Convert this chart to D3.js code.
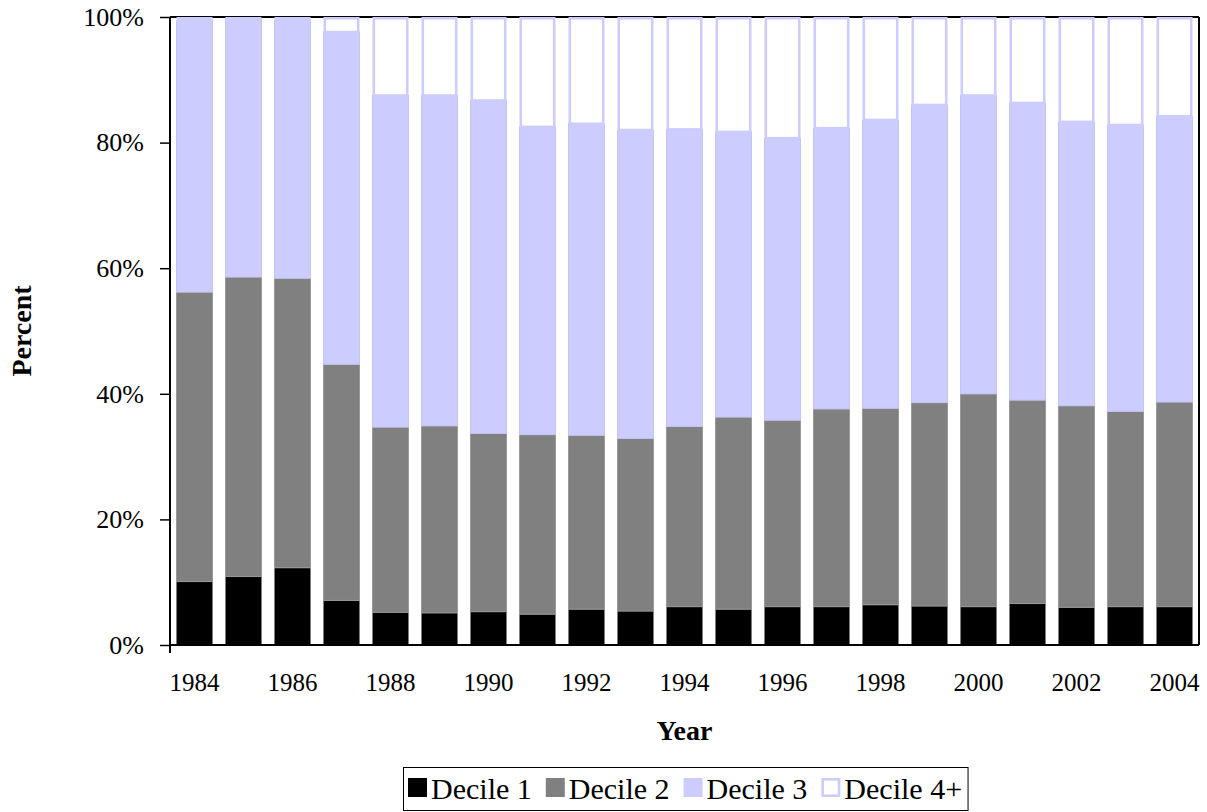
<!DOCTYPE html>
<html>
<head>
<meta charset="utf-8">
<script src="https://cdn.jsdelivr.net/npm/d3@7"></script>
<style>
  html, body { margin: 0; padding: 0; background: #fff; }
  text { font-family: "Liberation Serif", "Times New Roman", serif; fill: #000; }
</style>
</head>
<body>
<svg id="chart" width="1207" height="812"></svg>
<script>
const years = [1984,1985,1986,1987,1988,1989,1990,1991,1992,1993,1994,1995,1996,1997,1998,1999,2000,2001,2002,2003,2004];
const decile1 = [10.1,10.9,12.3,7.1,5.2,5.1,5.3,4.9,5.7,5.4,6.1,5.7,6.1,6.1,6.4,6.2,6.1,6.6,6.0,6.1,6.1];
const decile2 = [46.1,47.7,46.1,37.6,29.5,29.8,28.4,28.6,27.7,27.5,28.7,30.6,29.7,31.5,31.3,32.4,33.9,32.4,32.1,31.1,32.6];
const decile3 = [43.2,41.1,41.1,52.9,52.8,52.6,53.0,49.0,49.6,49.1,47.3,45.4,44.9,44.7,45.9,47.4,47.5,47.3,45.2,45.6,45.5];
const decile4 = [0.6,0.3,0.5,2.4,12.5,12.5,13.3,17.5,17.0,18.0,17.9,18.3,19.3,17.7,16.4,14.0,12.5,13.7,16.7,17.2,15.8];
const seriesNames = ["Decile 1","Decile 2","Decile 3","Decile 4+"];
const yTicks = [0,20,40,60,80,100];
const xLabelYears = [1984,1986,1988,1990,1992,1994,1996,1998,2000,2002,2004];

const fills = ["#000000","#808080","#CCCCFF","#FFFFFF"];
const strokes = ["#000000","#999999","#C4C4F4","#CCCCFF"];
const strokeW = [0,1,1,2.6];

const svg = d3.select("#chart");
const pLeft = 170, pRight = 1199, pTop = 17, pBottom = 645;

const rows = years.map((y,i)=>({year:y, "Decile 1":decile1[i], "Decile 2":decile2[i], "Decile 3":decile3[i], "Decile 4+":decile4[i]}));
const stacked = d3.stack().keys(seriesNames)(rows);

const x = d3.scaleBand().domain(years).range([pLeft,pRight]).paddingInner(0.265).paddingOuter(0.1325);
const y = d3.scaleLinear().domain([0,100]).range([pBottom,pTop]);

// frame top/right
svg.append("line").attr("x1",pLeft).attr("x2",pRight).attr("y1",pTop).attr("y2",pTop).attr("stroke","#000").attr("stroke-width",2);
svg.append("line").attr("x1",pRight).attr("x2",pRight).attr("y1",pTop).attr("y2",pBottom).attr("stroke","#000").attr("stroke-width",2);

// bars
stacked.forEach((s,k)=>{
  const inset = k===3 ? 1.3 : 0;
  svg.append("g").selectAll("rect").data(s).join("rect")
    .attr("x", d=>x(d.data.year) + inset)
    .attr("width", x.bandwidth() - 2*inset)
    .attr("y", d=>y(d[1]) + inset)
    .attr("height", d=>Math.max(0, y(d[0]) - y(d[1]) - inset))
    .attr("fill", fills[k])
    .attr("stroke", strokeW[k] ? strokes[k] : "none")
    .attr("stroke-width", strokeW[k]);
});

// axes
const yAxis = svg.append("g").attr("transform",`translate(${pLeft},0)`)
  .call(d3.axisLeft(y).tickValues(yTicks).tickSize(10).tickPadding(16).tickFormat(d=>d+"%"));
yAxis.select(".domain").attr("stroke","#000").attr("stroke-width",2).attr("d",`M0,${pTop}V${pBottom+8}`);
yAxis.selectAll(".tick line").attr("stroke","#000").attr("stroke-width",1.5);
yAxis.selectAll("text").style("font-family","Liberation Serif").style("font-size","26px").attr("fill","#000");

const xAxis = svg.append("g").attr("transform",`translate(0,${pBottom})`)
  .call(d3.axisBottom(x).tickValues(xLabelYears).tickSize(0).tickPadding(28));
xAxis.select(".domain").attr("stroke","#000").attr("stroke-width",2).attr("d",`M${pLeft},0H${pRight}`);
xAxis.selectAll("text").style("font-family","Liberation Serif").style("font-size","25px").attr("fill","#000");

// axis titles
svg.append("text").attr("x",(pLeft+pRight)/2).attr("y",740).attr("text-anchor","middle")
  .style("font-size","28px").style("font-weight","bold").text("Year");
svg.append("text").attr("transform",`translate(31,${(pTop+pBottom)/2}) rotate(-90)`).attr("text-anchor","middle")
  .style("font-size","28px").style("font-weight","bold").text("Percent");

// legend
const lg = svg.append("g");
const box = lg.append("rect").attr("fill","#fff").attr("stroke","#000").attr("stroke-width",1);
let cx = 408;
seriesNames.forEach((n,k)=>{
  const inset = k===3 ? 1.3 : 0;
  lg.append("rect").attr("x",cx + inset).attr("y",778 + inset)
    .attr("width",19 - 2*inset).attr("height",19 - 2*inset)
    .attr("fill",fills[k]).attr("stroke", k===3?strokes[3]:"none").attr("stroke-width", k===3?2.6:0);
  const t = lg.append("text").attr("x",cx+23).attr("y",799).style("font-size","30px").text(n);
  cx += 23 + t.node().getComputedTextLength() + 14;
});
box.attr("x",403.5).attr("y",767.5).attr("width",cx - 14 + 6 - 403.5).attr("height",43);
</script>
</body>
</html>
